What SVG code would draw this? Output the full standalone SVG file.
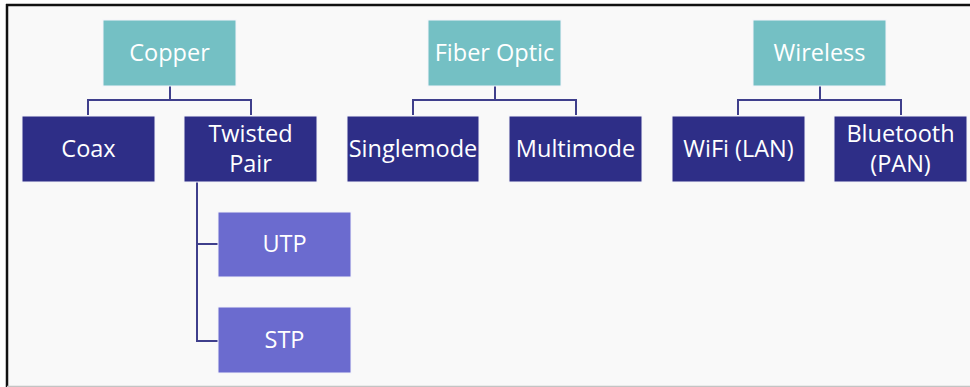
<svg xmlns="http://www.w3.org/2000/svg" width="970" height="387" viewBox="0 0 970 387">
<style>
.top{fill:#74C0C4}
.mid{fill:#2E2E87}
.sub{fill:#6B6BCF}
.box{stroke:#F4F4FA;stroke-width:1}
text{font-family:"Open Sans","Noto Sans","Liberation Sans",sans-serif;font-size:23.5px;fill:#FFFFFF;text-anchor:middle}
.conn path{fill:none;stroke:#3F3F8C;stroke-width:2}
</style>
<rect x="0" y="0" width="970" height="387" fill="#FFFFFF"/>
<rect x="7" y="5" width="963" height="381" fill="#F9F9F9"/>
<line x1="6" y1="5" x2="970" y2="5" stroke="#111111" stroke-width="2.5"/>
<line x1="7" y1="4" x2="7" y2="387" stroke="#111111" stroke-width="2.5"/>
<line x1="7" y1="386.5" x2="970" y2="386.5" stroke="#C4C4C4" stroke-width="1.5"/>
<g class="conn">
<path d="M170 86V100M88 115V100H251V115"/>
<path d="M495 86V100M413 115V100H576V115"/>
<path d="M820 86V100M738 115V100H901V115"/>
<path d="M197 182V341H218M197 244H218"/>
</g>
<g id="copper"><rect class="top box" x="103" y="20" width="133" height="66"/><text x="169.5" y="61">Copper</text></g>
<g id="coax"><rect class="mid box" x="22" y="116" width="133" height="66"/><text x="88.5" y="157">Coax</text></g>
<g id="twisted"><rect class="mid box" x="184" y="116" width="133" height="66"/><text x="250.5" y="142">Twisted</text><text x="250.5" y="172">Pair</text></g>
<g id="utp"><rect class="sub box" x="218" y="212" width="133" height="65"/><text x="284.5" y="252">UTP</text></g>
<g id="stp"><rect class="sub box" x="218" y="307" width="133" height="66"/><text x="284.5" y="348">STP</text></g>
<g id="fiber"><rect class="top box" x="428" y="20" width="133" height="66"/><text x="494.5" y="61">Fiber Optic</text></g>
<g id="single"><rect class="mid box" x="347" y="116" width="132" height="66"/><text x="413" y="157">Singlemode</text></g>
<g id="multi"><rect class="mid box" x="509" y="116" width="133" height="66"/><text x="575.5" y="157">Multimode</text></g>
<g id="wireless"><rect class="top box" x="753" y="20" width="133" height="66"/><text x="819.5" y="61">Wireless</text></g>
<g id="wifi"><rect class="mid box" x="672" y="116" width="133" height="66"/><text x="738.5" y="157">WiFi (LAN)</text></g>
<g id="bluetooth"><rect class="mid box" x="834" y="116" width="133" height="66"/><text x="900.5" y="142">Bluetooth</text><text x="900.5" y="172">(PAN)</text></g>
</svg>
